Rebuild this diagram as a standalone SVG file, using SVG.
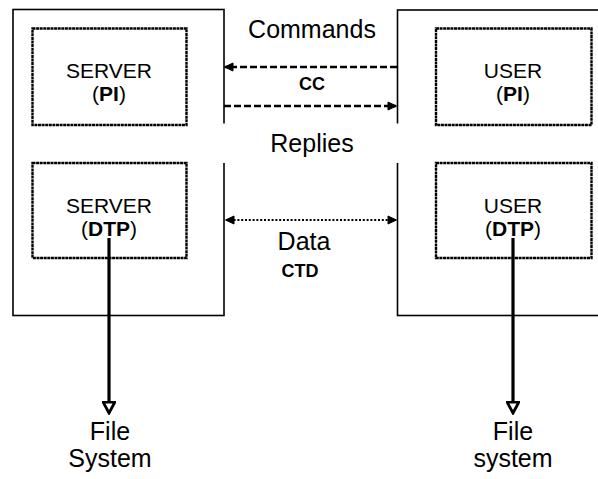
<svg xmlns="http://www.w3.org/2000/svg" width="598" height="479" viewBox="0 0 598 479">
<style>
  .outer { fill: none; stroke: #000; stroke-width: 1.6; }
  .inner { fill: none; stroke: #000; stroke-width: 2.4; stroke-dasharray: 3 0.6; }
  .t { font-family: "Liberation Sans", Arial, sans-serif; fill: #000; text-anchor: middle; }
  .node { font-size: 21px; }
  .lbl { font-size: 25px; }
  .b { font-weight: bold; }
  .small { font-size: 18px; font-weight: bold; }
  .dash { fill: none; stroke: #000; stroke-width: 2.5; stroke-dasharray: 7 3; }
  .dot { fill: none; stroke: #000; stroke-width: 2.2; stroke-dasharray: 2 1.8; }
  .solid { fill: none; stroke: #000; stroke-width: 3.2; }
</style>
<defs>
  <marker id="ah" viewBox="0 0 10 10" refX="9" refY="5" markerWidth="10" markerHeight="10" orient="auto-start-reverse" markerUnits="userSpaceOnUse">
    <path d="M1,1 L9.5,5 L1,9 Z" fill="#000" stroke="#000" stroke-width="1"/>
  </marker>
  <marker id="ahv" viewBox="0 0 14 14" refX="12.5" refY="7" markerWidth="14" markerHeight="14" orient="auto" markerUnits="userSpaceOnUse">
    <path d="M1.5,1 L12.5,7 L1.5,13 Z" fill="#fff" stroke="#000" stroke-width="2.8" stroke-linejoin="miter"/>
  </marker>
</defs>
<rect width="598" height="479" fill="#fff"/>

<g id="server">
  <rect class="outer" x="13" y="9.5" width="211" height="306"/>
</g>
<g id="user">
  <rect class="outer" x="397.5" y="10" width="230" height="305.5"/>
</g>

<g id="server-pi">
  <rect class="inner" x="32.5" y="28.5" width="154" height="96.5"/>
  <text class="t node" x="109" y="78">SERVER</text>
  <text class="t node" x="109" y="101">(<tspan class="b">PI</tspan>)</text>
</g>
<g id="server-dtp">
  <rect class="inner" x="32.5" y="163" width="154" height="95"/>
  <text class="t node" x="109" y="213">SERVER</text>
  <text class="t node" x="109" y="236">(<tspan class="b">DTP</tspan>)</text>
</g>
<g id="user-pi">
  <rect class="inner" x="436" y="28.5" width="155.5" height="96.5"/>
  <text class="t node" x="513" y="78">USER</text>
  <text class="t node" x="513" y="101">(<tspan class="b">PI</tspan>)</text>
</g>
<g id="user-dtp">
  <rect class="inner" x="436" y="163" width="155.5" height="95"/>
  <text class="t node" x="513" y="213">USER</text>
  <text class="t node" x="513" y="236">(<tspan class="b">DTP</tspan>)</text>
</g>

<g id="replies-gap">
  <rect x="220" y="123.5" width="182" height="39.5" fill="#fff"/>
</g>

<g id="connectors">
  <line class="dash" x1="397" y1="67" x2="225" y2="67" marker-end="url(#ah)"/>
  <line class="dash" x1="224" y1="106" x2="396" y2="106" marker-end="url(#ah)"/>
  <line class="dot" x1="226" y1="220" x2="396" y2="220" marker-start="url(#ah)" marker-end="url(#ah)"/>
  <line class="solid" x1="109" y1="238" x2="109" y2="413" marker-end="url(#ahv)"/>
  <line class="solid" x1="513" y1="238" x2="513" y2="413" marker-end="url(#ahv)"/>
</g>

<g id="labels">
  <text class="t lbl" x="312" y="38">Commands</text>
  <text class="t small" x="312" y="90">CC</text>
  <text class="t lbl" x="312" y="152">Replies</text>
  <text class="t lbl" x="304" y="250">Data</text>
  <text class="t small" x="300" y="277">CTD</text>
  <text class="t lbl" x="110" y="440">File</text>
  <text class="t lbl" x="110" y="467">System</text>
  <text class="t lbl" x="513" y="440">File</text>
  <text class="t lbl" x="513" y="467">system</text>
</g>
</svg>
